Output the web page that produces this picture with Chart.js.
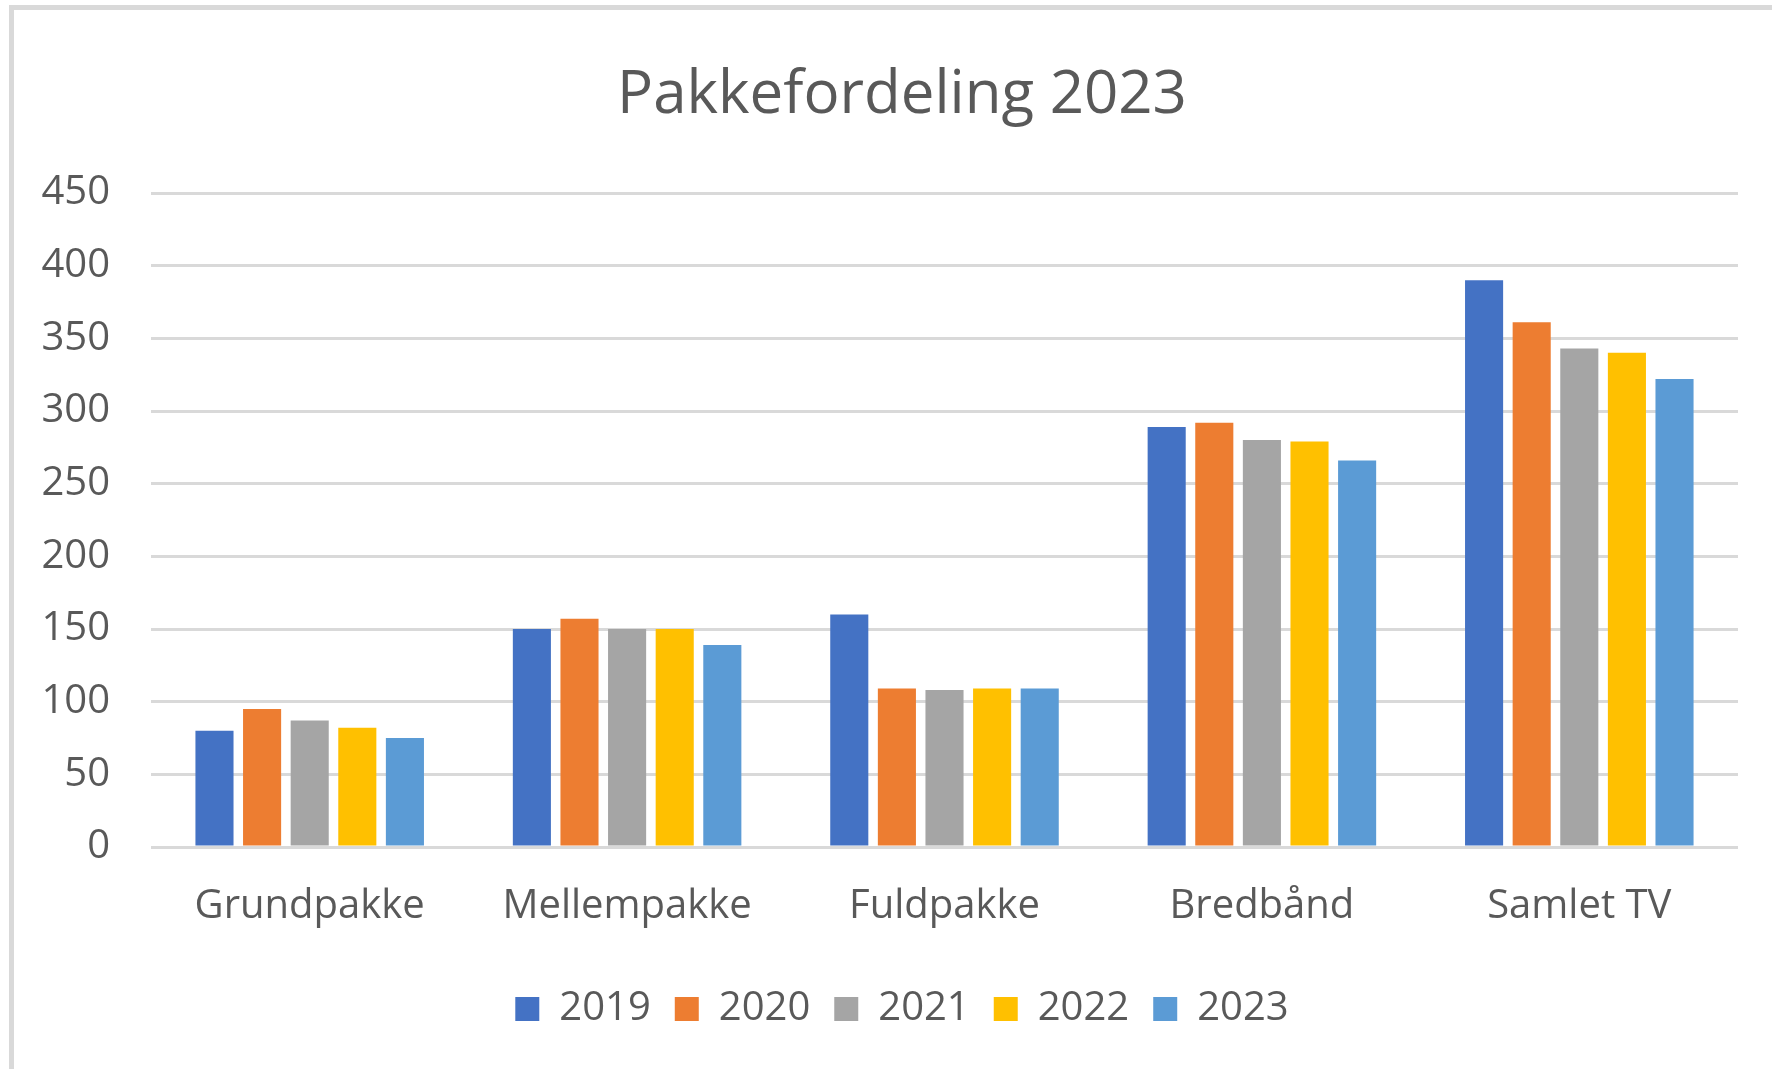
<!DOCTYPE html>
<html>
<head>
<meta charset="utf-8">
<script src="https://cdn.jsdelivr.net/npm/chart.js@4"></script>
<style>
  html, body { margin: 0; padding: 0; background: #fff; }
  #frame {
    position: absolute; left: 9px; top: 5px; right: 0; bottom: 0;
    border-top: 5px solid #d9d9d9; border-left: 5px solid #d9d9d9;
  }
  #wrap { position: absolute; left: 0; top: 0; width: 1772px; height: 1069px; }
</style>
</head>
<body>
<div id="frame"></div>
<div id="wrap"><canvas id="myChart"></canvas></div>
<script>
// categories and series
const categories = ['Grundpakke', 'Mellempakke', 'Fuldpakke', 'Bredbånd', 'Samlet TV'];
const years = ['2019', '2020', '2021', '2022', '2023'];
const values2019 = [80, 150, 160, 289, 390];
const values2020 = [95, 157, 109, 292, 361];
const values2021 = [87, 150, 108, 280, 343];
const values2022 = [82, 150, 109, 279, 340];
const values2023 = [75, 139, 109, 266, 322];
const seriesColors = ['#4472C4', '#ED7D31', '#A5A5A5', '#FFC000', '#5B9BD5'];
const yTicks = [0, 50, 100, 150, 200, 250, 300, 350, 400, 450];

const textColor = '#595959';
const fontFamily = '"Open Sans", "Noto Sans", sans-serif';

const allValues = [values2019, values2020, values2021, values2022, values2023];

const ctx = document.getElementById('myChart').getContext('2d');
const myChart = new Chart(ctx, {
    type: 'bar',
    data: {
        labels: categories,
        datasets: years.map((y, i) => ({
            label: y,
            data: allValues[i],
            backgroundColor: seriesColors[i],
            borderWidth: 0,
            categoryPercentage: 0.75,
            barPercentage: 0.8
        }))
    },
    options: {
        responsive: true,
        maintainAspectRatio: false,
        animation: false,
        layout: {
            padding: { left: 36, right: 4, top: 0, bottom: 30 }
        },
        plugins: {
            title: {
                display: true,
                text: 'Pakkefordeling 2023',
                color: textColor,
                font: { family: fontFamily, size: 60, weight: 'normal' },
                padding: { top: 60, bottom: 61 }
            },
            legend: {
                position: 'bottom',
                labels: {
                    color: textColor,
                    font: { family: fontFamily, size: 40 },
                    boxWidth: 24,
                    boxHeight: 24,
                    padding: 24
                }
            },
            tooltip: { enabled: false }
        },
        scales: {
            x: {
                grid: { display: false },
                border: { display: false },
                ticks: {
                    color: textColor,
                    font: { family: fontFamily, size: 40 },
                    padding: 28
                },
                afterFit: (scale) => { scale.height = 118; }
            },
            y: {
                min: 0,
                max: 450,
                grid: { color: '#d9d9d9', lineWidth: 3, drawTicks: false },
                border: { display: false },
                afterBuildTicks: (scale) => { scale.ticks = yTicks.map(v => ({ value: v })); },
                afterFit: (scale) => { scale.width = 151 - 36; },
                ticks: {
                    color: textColor,
                    font: { family: fontFamily, size: 40 },
                    padding: 41
                }
            },
            // empty right-hand axis, only keeps the title and legend centred like the original
            yRight: {
                type: 'linear',
                position: 'right',
                display: true,
                grid: { display: false },
                border: { display: false },
                ticks: { display: false },
                afterFit: (scale) => { scale.width = 1772 - 4 - 1738; }
            }
        }
    }
});
</script>
</body>
</html>
